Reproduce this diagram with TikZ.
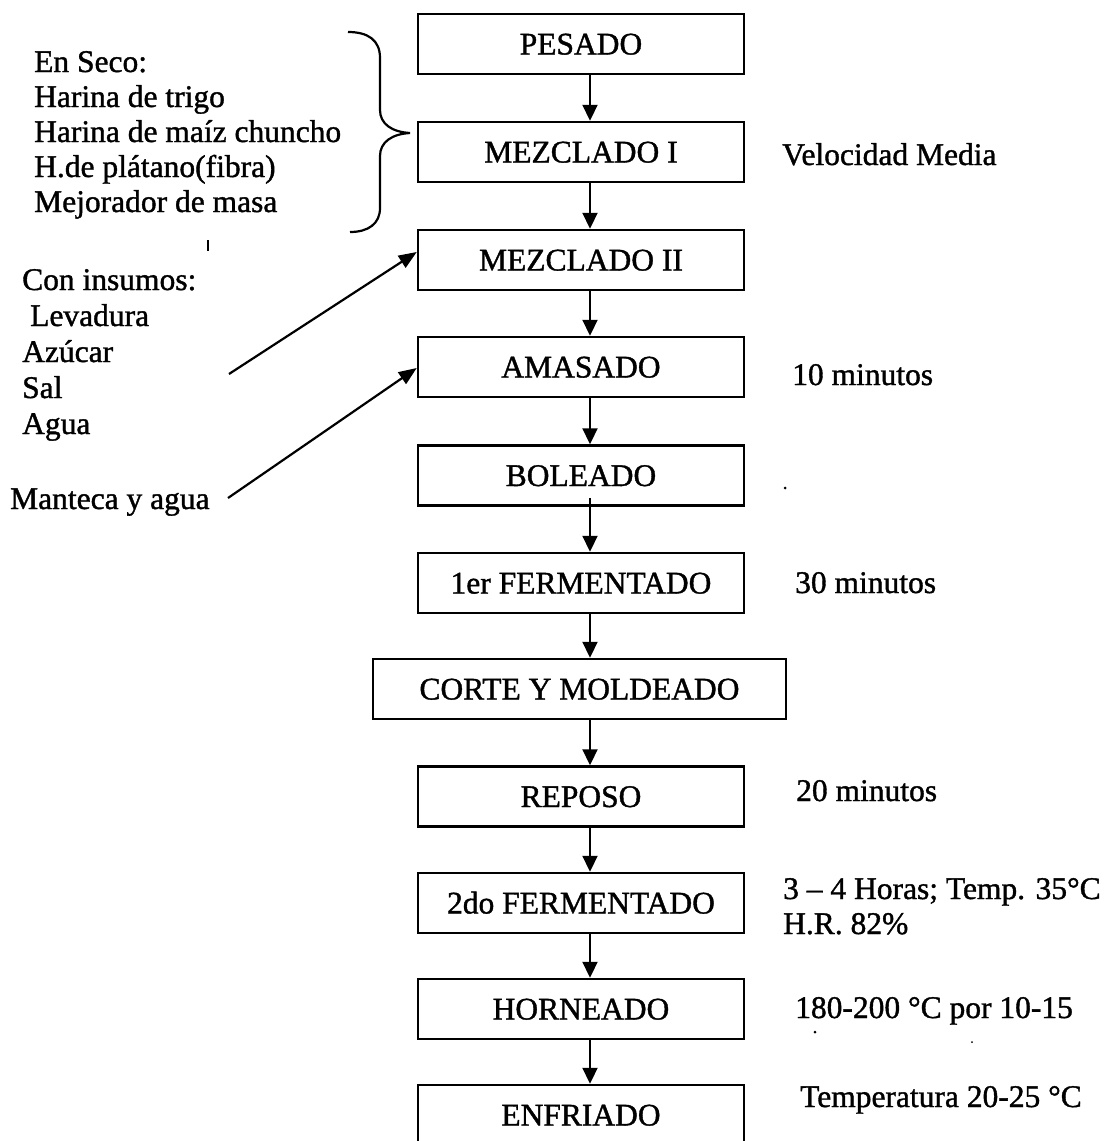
\documentclass[tikz,border=0pt]{standalone}
\usepackage{fontspec}
\setmainfont{Liberation Serif}
\newfontfamily\scanfont{Liberation Serif}[FakeBold=1.2]
\usetikzlibrary{arrows.meta}
\begin{document}
\begin{tikzpicture}[x=1pt,y=-1pt,
  proc/.style={draw,line width=2.5pt,minimum width=326pt,minimum height=60pt,inner sep=0pt,
    font=\scanfont\fontsize{31.5}{36}\selectfont,text height=21pt,text depth=0pt},
  lbl/.style={anchor=base west,inner sep=0pt,font=\scanfont\fontsize{31.5}{36}\selectfont},
  arr/.style={line width=2.2pt,-{Triangle[width=15pt,length=16pt]}},
  diag/.style={line width=2.2pt,-{Triangle[width=14pt,length=18pt]}},
  tickline/.style={line width=1.5pt}]
\useasboundingbox (0,0) rectangle (1110,1141);

% process boxes
\node[proc] (pes) at (581,44) {PESADO};
\node[proc] (m1)  at (581,152) {MEZCLADO I};
\node[proc] (m2)  at (581,260) {MEZCLADO II};
\node[proc] (am)  at (581,367) {AMASADO};
\node[proc] (bol) at (581,475.5) {BOLEADO};
\node[proc] (f1)  at (581,583) {1er FERMENTADO};
\node[proc,minimum width=413pt] (cor) at (579.5,689) {CORTE Y MOLDEADO};
\node[proc] (rep) at (581,796.5) {REPOSO};
\node[proc] (f2)  at (581,903) {2do FERMENTADO};
\node[proc] (hor) at (581,1009) {HORNEADO};
\node[proc] (enf) at (581,1115) {ENFRIADO};

% vertical arrows
\coordinate (ax) at (590,0);
\draw[arr] (pes.south -| ax) -- (m1.north -| ax);
\draw[arr] (m1.south -| ax) -- (m2.north -| ax);
\draw[arr] (m2.south -| ax) -- (am.north -| ax);
\draw[arr] (am.south -| ax) -- (bol.north -| ax);
\draw[arr] ([yshift=9pt]bol.south -| ax) -- (f1.north -| ax);
\draw[arr] (f1.south -| ax) -- (cor.north -| ax);
\draw[arr] (cor.south -| ax) -- (rep.north -| ax);
\draw[arr] (rep.south -| ax) -- (f2.north -| ax);
\draw[arr] (f2.south -| ax) -- (hor.north -| ax);
\draw[arr] (hor.south -| ax) -- (enf.north -| ax);

% left labels, dry ingredients
\node[lbl] (t1) at (34,72) {En Seco:};
\node[lbl] (t2) at (34,107) {Harina de trigo};
\node[lbl] (t3) at (34,142) {Harina de maíz chuncho};
\node[lbl] (t4) at (34,177) {H.de plátano(fibra)};
\node[lbl] (t5) at (34,212) {Mejorador de masa};

% brace
\draw[line width=2.2pt] (348,32) .. controls (368,32) and (380,40) .. (380,58) -- (380,110)
  .. controls (380,124) and (392,132) .. (410,133)
  .. controls (392,134) and (380,142) .. (380,156) -- (380,208)
  .. controls (380,224) and (368,232) .. (350,232);

% left labels, other ingredients
\node[lbl] (c1) at (22,290) {Con insumos:};
\node[lbl] (c2) at (30,326) {Levadura};
\node[lbl] (c3) at (22,362) {Azúcar};
\node[lbl] (c4) at (22,398) {Sal};
\node[lbl] (c5) at (22,434) {Agua};
\node[lbl] (man) at (10,509) {Manteca y agua};

\coordinate (s1) at (229,374);
\coordinate (s2) at (228,498);
\draw[diag] (s1) -- ([yshift=8pt]m2.west);
\draw[diag] (s2) -- ([yshift=-1pt]am.west);

% right labels
\node[lbl] (r1) at (782,165) {Velocidad Media};
\node[lbl] (r2) at (792,385) {10 minutos};
\node[lbl] (r3) at (795,593) {30 minutos};
\node[lbl] (r4) at (796,801) {20 minutos};
\node[lbl] (r5) at (783,899) {3 – 4 Horas; Temp. 35°C};
\node[lbl] (r6) at (783,934) {H.R. 82\%};
\node[lbl] (r7) at (795,1018) {180-200 °C por 10-15};
\node[lbl] (r8) at (800,1107) {Temperatura 20-25 °C};

% small marks
\draw[tickline] (208,240) -- (208,251);
\fill (785,488) circle (1.5pt);
\fill (815,1032) circle (1.5pt);
\fill (972,1042) circle (1pt);
\end{tikzpicture}
\end{document}
